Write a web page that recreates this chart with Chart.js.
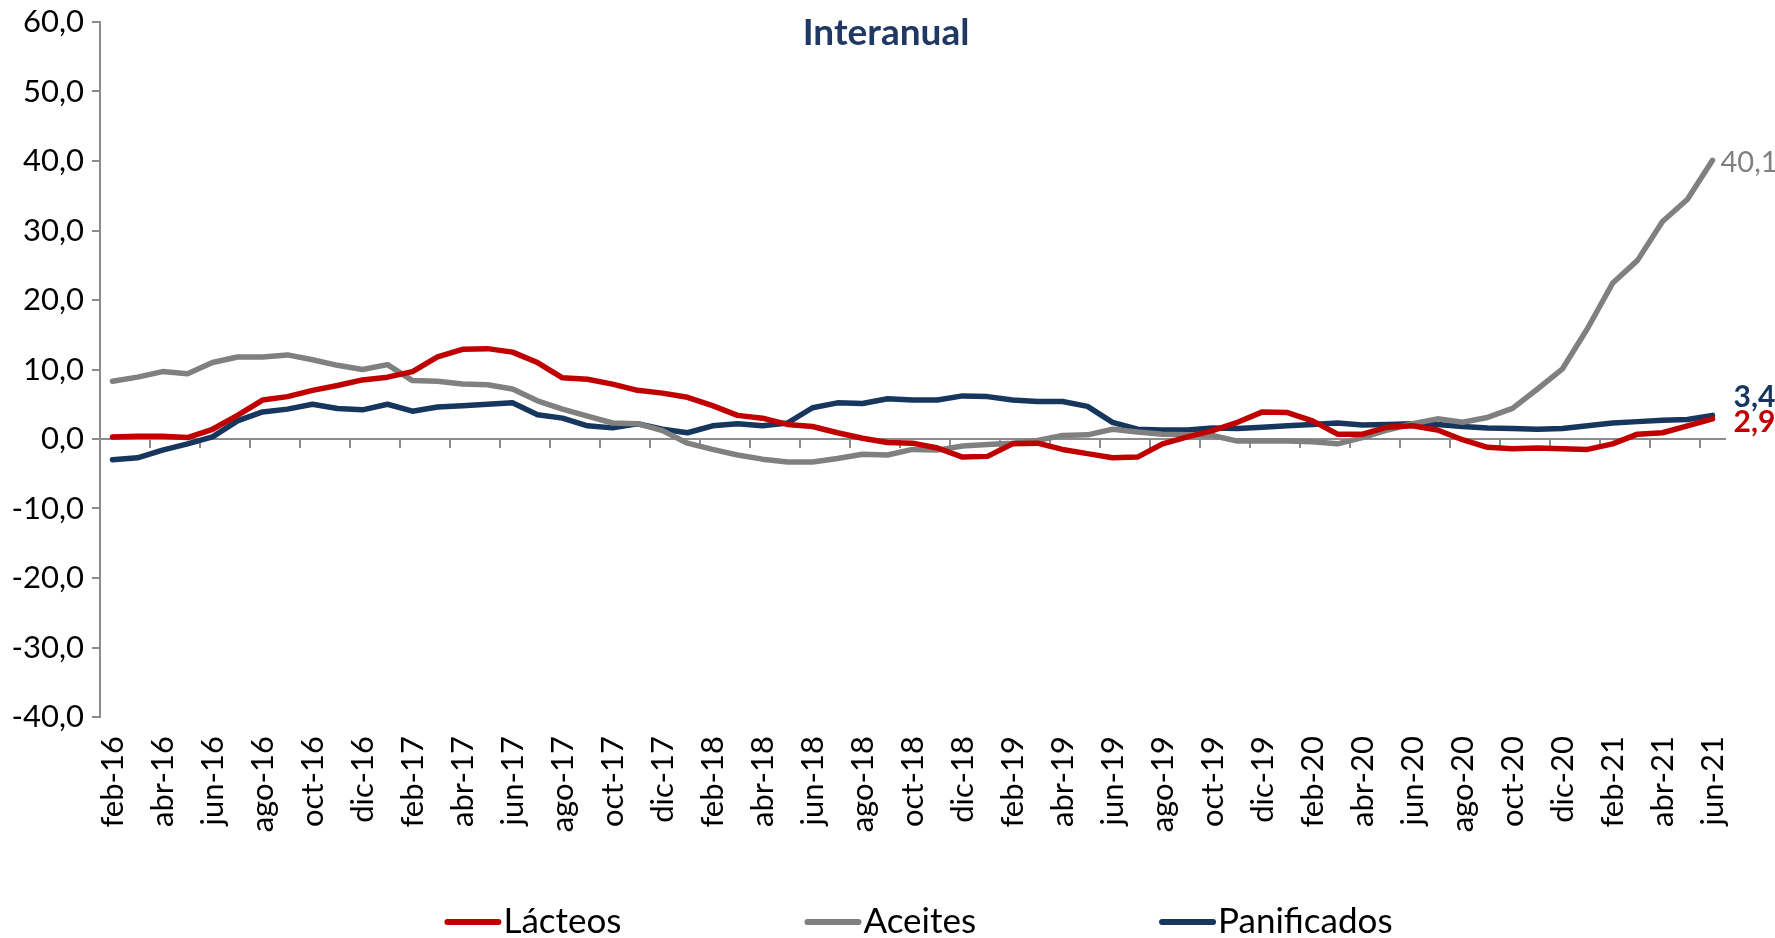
<!DOCTYPE html>
<html>
<head>
<meta charset="utf-8">
<title>Lácteos, Aceites y Panificados - Interanual</title>
<script src="https://cdn.jsdelivr.net/npm/chart.js@4.4.1/dist/chart.umd.min.js"></script>
<style>
    html, body { margin: 0; padding: 0; background: #ffffff; }
    #grafico { display: block; }
</style>
</head>
<body>
<canvas id="grafico" width="1775" height="938"></canvas>
<script>
// Meses (feb-16 a jun-21)
var categorias = [
    'feb-16', 'mar-16', 'abr-16', 'may-16', 'jun-16', 'jul-16', 'ago-16', 'sep-16', 'oct-16', 'nov-16', 'dic-16',
    'ene-17', 'feb-17', 'mar-17', 'abr-17', 'may-17', 'jun-17', 'jul-17', 'ago-17', 'sep-17', 'oct-17', 'nov-17', 'dic-17',
    'ene-18', 'feb-18', 'mar-18', 'abr-18', 'may-18', 'jun-18', 'jul-18', 'ago-18', 'sep-18', 'oct-18', 'nov-18', 'dic-18',
    'ene-19', 'feb-19', 'mar-19', 'abr-19', 'may-19', 'jun-19', 'jul-19', 'ago-19', 'sep-19', 'oct-19', 'nov-19', 'dic-19',
    'ene-20', 'feb-20', 'mar-20', 'abr-20', 'may-20', 'jun-20', 'jul-20', 'ago-20', 'sep-20', 'oct-20', 'nov-20', 'dic-20',
    'ene-21', 'feb-21', 'mar-21', 'abr-21', 'may-21', 'jun-21'
];

// Variacion interanual (%)
var lacteos = [
    0.3, 0.4, 0.4, 0.2, 1.4, 3.4, 5.6, 6.1, 7.0, 7.7, 8.5,
    8.9, 9.7, 11.8, 12.9, 13.0, 12.5, 11.0, 8.8, 8.6, 7.9, 7.0, 6.6,
    6.0, 4.8, 3.4, 3.0, 2.1, 1.8, 0.9, 0.1, -0.5, -0.6, -1.3, -2.6,
    -2.5, -0.7, -0.6, -1.5, -2.1, -2.7, -2.6, -0.7, 0.3, 1.2, 2.4, 3.9,
    3.8, 2.6, 0.7, 0.7, 1.7, 1.9, 1.3, -0.1, -1.2, -1.4, -1.3, -1.4,
    -1.5, -0.7, 0.7, 0.9, 1.9, 2.9
];

var aceites = [
    8.3, 8.9, 9.7, 9.4, 11.0, 11.8, 11.8, 12.1, 11.4, 10.6, 10.0,
    10.7, 8.4, 8.3, 7.9, 7.8, 7.2, 5.5, 4.3, 3.3, 2.3, 2.2, 1.2,
    -0.6, -1.5, -2.3, -2.9, -3.3, -3.3, -2.8, -2.2, -2.3, -1.5, -1.6, -1.0,
    -0.8, -0.6, -0.2, 0.5, 0.6, 1.4, 1.0, 0.7, 0.6, 0.5, -0.3, -0.3,
    -0.3, -0.4, -0.7, 0.2, 1.3, 2.2, 2.9, 2.4, 3.1, 4.4, 7.2, 10.1,
    15.9, 22.4, 25.7, 31.3, 34.5, 40.1
];

var panificados = [
    -3.0, -2.7, -1.6, -0.7, 0.3, 2.6, 3.9, 4.3, 5.0, 4.4, 4.2,
    5.0, 4.0, 4.6, 4.8, 5.0, 5.2, 3.5, 3.0, 1.9, 1.6, 2.2, 1.4,
    0.9, 1.9, 2.2, 1.9, 2.3, 4.5, 5.2, 5.1, 5.8, 5.6, 5.6, 6.2,
    6.1, 5.6, 5.4, 5.4, 4.7, 2.4, 1.4, 1.3, 1.3, 1.6, 1.5, 1.7,
    1.9, 2.1, 2.3, 2.0, 2.1, 2.2, 2.1, 1.8, 1.6, 1.5, 1.4, 1.5,
    1.9, 2.3, 2.5, 2.7, 2.8, 3.4
];

// Eje Y
var yMin = -40;
var yMax = 60;
var yPaso = 10;

var titulo = 'Interanual';

var ROJO = '#c00000';
var GRIS = '#808080';
var AZUL = '#17365d';
var EJE = '#8c8c8c';

Chart.defaults.font.family = 'Lato, "Open Sans", sans-serif';
Chart.defaults.color = '#000000';

function formatoComa(v) {
    return v.toFixed(1).replace('.', ',');
}

// Titulo (se dibuja sobre el area del grafico, sin ocupar espacio)
var tituloPlugin = {
    id: 'tituloPlugin',
    afterDraw: function (chart) {
        var ctx = chart.ctx;
        ctx.save();
        ctx.font = 'bold 37px Lato, sans-serif';
        ctx.fillStyle = '#1f3864';
        ctx.textAlign = 'center';
        ctx.textBaseline = 'middle';
        ctx.fillText(titulo, 886, 33);
        ctx.restore();
    }
};

// Valor del ultimo punto de cada serie
var etiquetasFinales = {
    id: 'etiquetasFinales',
    afterDatasetsDraw: function (chart) {
        var ctx = chart.ctx;
        chart.data.datasets.forEach(function (ds, i) {
            var meta = chart.getDatasetMeta(i);
            var ultimo = meta.data[meta.data.length - 1];
            if (!ultimo) return;
            ctx.save();
            ctx.font = ds.etiqueta.font;
            ctx.fillStyle = ds.borderColor;
            ctx.textAlign = 'left';
            ctx.textBaseline = 'middle';
            ctx.fillText(formatoComa(ds.data[ds.data.length - 1]), ultimo.x + ds.etiqueta.dx, ultimo.y + ds.etiqueta.dy);
            ctx.restore();
        });
    }
};

// Leyenda abajo con espacios fijos entre items
var leyendaPlugin = {
    id: 'leyendaPlugin',
    afterDraw: function (chart) {
        var ctx = chart.ctx;
        var largo = 57, sep = 2, hueco = 183, y = 922;
        ctx.save();
        ctx.font = '35px Lato, sans-serif';
        var anchos = chart.data.datasets.map(function (ds) {
            return largo + sep + ctx.measureText(ds.label).width;
        });
        var total = anchos.reduce(function (a, b) { return a + b; }, 0) + hueco * (anchos.length - 1);
        var x = (chart.chartArea.left + chart.chartArea.right) / 2 - total / 2 + 6;
        chart.data.datasets.forEach(function (ds, i) {
            ctx.strokeStyle = ds.borderColor;
            ctx.lineWidth = 6;
            ctx.lineCap = 'round';
            ctx.beginPath();
            ctx.moveTo(x + 3, y);
            ctx.lineTo(x + largo - 3, y);
            ctx.stroke();
            ctx.fillStyle = '#000000';
            ctx.textAlign = 'left';
            ctx.textBaseline = 'middle';
            ctx.fillText(ds.label, x + largo + sep, y);
            x += anchos[i] + hueco;
        });
        ctx.restore();
    }
};

function serie(nombre, datos, color, etiqueta) {
    return {
        label: nombre,
        data: datos,
        borderColor: color,
        backgroundColor: color,
        borderWidth: 5.5,
        borderCapStyle: 'round',
        borderJoinStyle: 'round',
        pointRadius: 0,
        pointHoverRadius: 0,
        tension: 0,
        fill: false,
        xAxisID: 'x',
        etiqueta: etiqueta
    };
}

var grafico = new Chart(document.getElementById('grafico'), {
    type: 'line',
    data: {
        labels: categorias,
        datasets: [
            serie('Lácteos', lacteos, ROJO, { font: 'bold 30px Lato, sans-serif', dx: 21, dy: 3 }),
            serie('Aceites', aceites, GRIS, { font: '29px Lato, sans-serif', dx: 8, dy: 2 }),
            serie('Panificados', panificados, AZUL, { font: 'bold 30px Lato, sans-serif', dx: 21, dy: -18 })
        ]
    },
    options: {
        responsive: false,
        animation: false,
        devicePixelRatio: 1,
        layout: { padding: { top: 22, right: 50, bottom: 0, left: 0 } },
        plugins: {
            legend: { display: false },
            title: { display: false },
            tooltip: { enabled: false }
        },
        scales: {
            // eje de categorias sobre el cero (solo linea y marcas)
            x: {
                type: 'category',
                position: { y: 0 },
                offset: true,
                ticks: { display: false, autoSkip: false },
                grid: {
                    offset: true,
                    drawOnChartArea: false,
                    drawTicks: true,
                    tickLength: 8,
                    lineWidth: 2,
                    color: function (c) {
                        return c.index % 2 === 0 ? EJE : 'rgba(0,0,0,0)';
                    }
                },
                border: { display: true, color: EJE, width: 2 }
            },
            // etiquetas de meses abajo
            x2: {
                type: 'category',
                axis: 'x',
                position: 'bottom',
                offset: true,
                grid: { display: false, drawTicks: false },
                border: { display: false },
                ticks: {
                    autoSkip: false,
                    minRotation: 90,
                    maxRotation: 90,
                    padding: 19,
                    font: { size: 31 },
                    callback: function (v, i) {
                        return i % 2 === 0 ? this.getLabelForValue(v) : '';
                    }
                },
                afterFit: function (scale) {
                    scale.height = 221;
                }
            },
            y: {
                min: yMin,
                max: yMax,
                ticks: {
                    stepSize: yPaso,
                    padding: 8,
                    font: { size: 31 },
                    callback: function (v) { return formatoComa(v); }
                },
                grid: {
                    drawOnChartArea: false,
                    drawTicks: true,
                    tickLength: 8,
                    lineWidth: 2,
                    color: EJE
                },
                border: { display: true, color: EJE, width: 2 },
                afterFit: function (scale) {
                    scale.width = 100;
                    // que el area del grafico empiece justo en el padding superior
                    scale.paddingTop = 0;
                    scale.paddingBottom = 0;
                }
            }
        }
    },
    plugins: [tituloPlugin, etiquetasFinales, leyendaPlugin]
});
</script>
</body>
</html>
